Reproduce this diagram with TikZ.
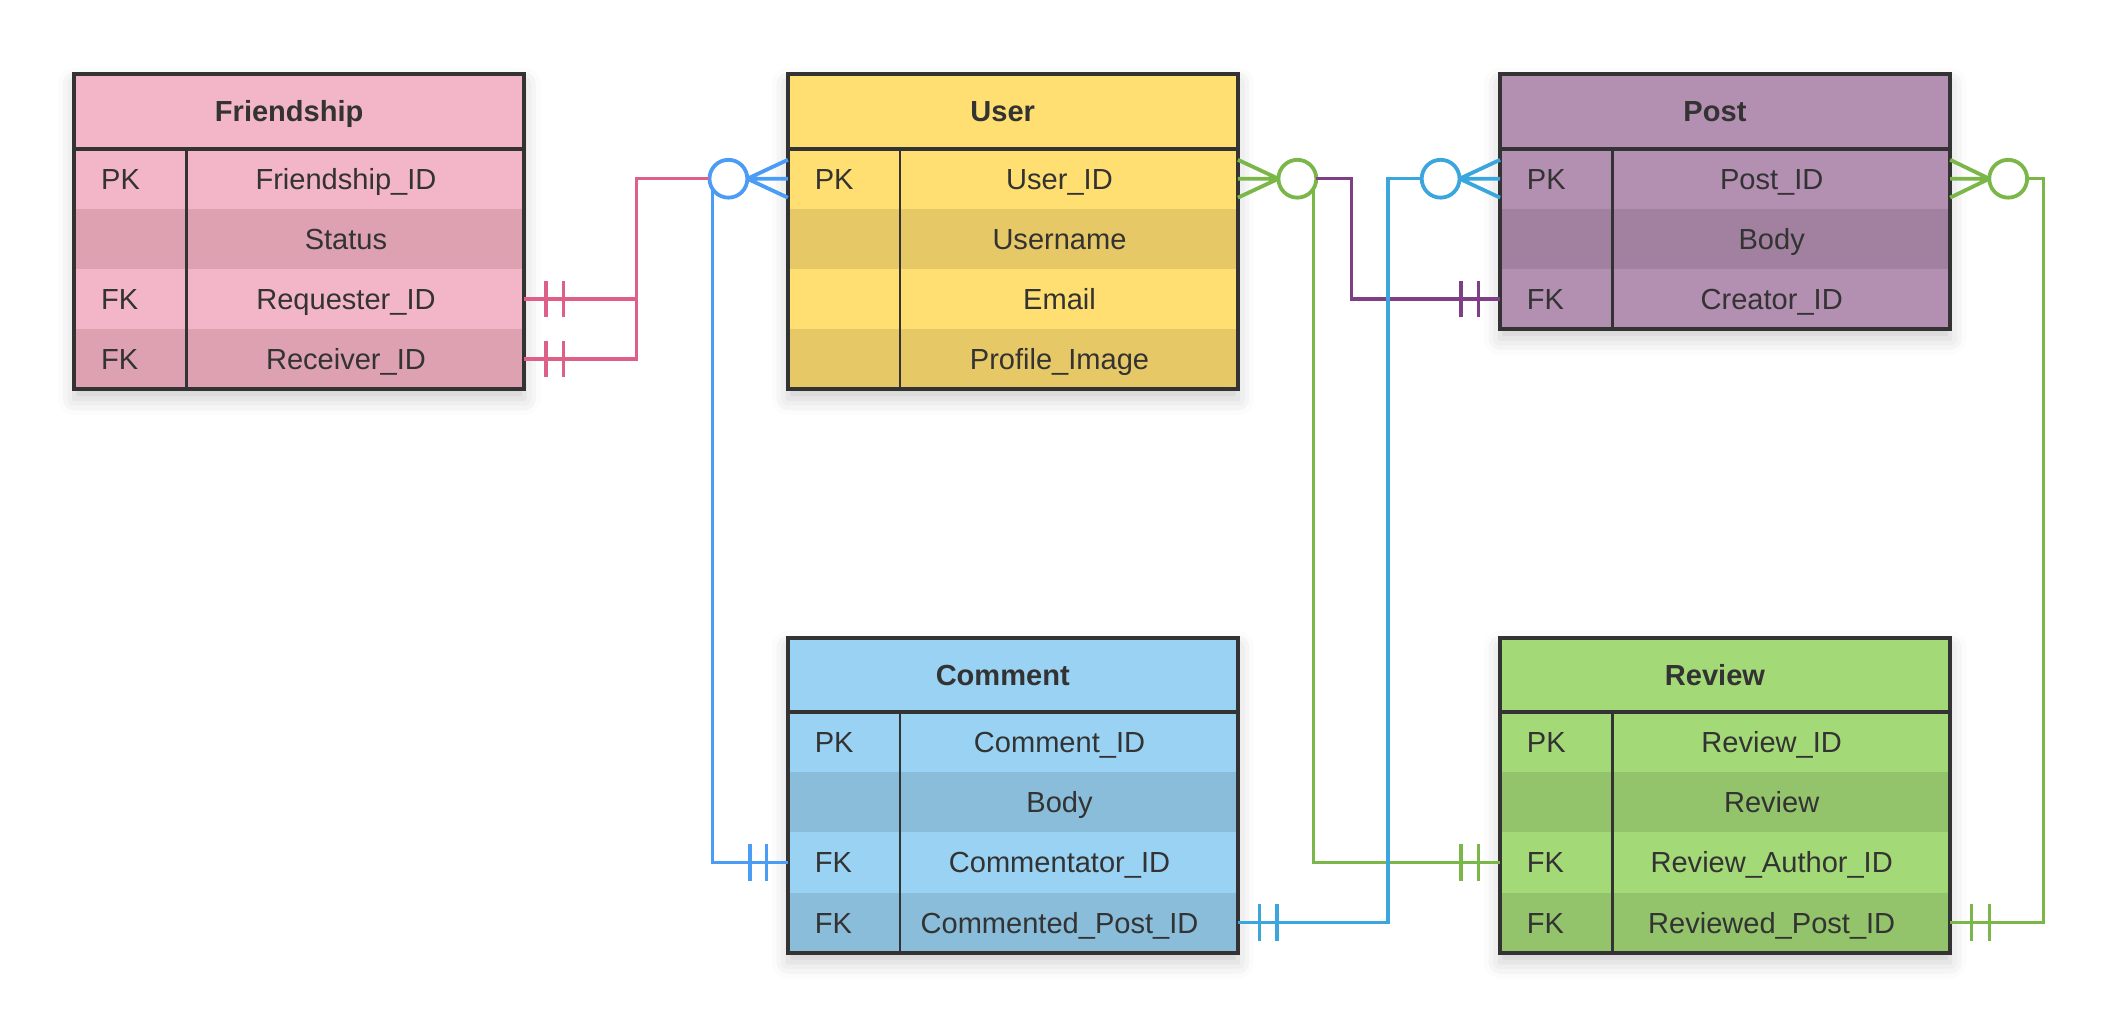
\documentclass[tikz,border=0pt]{standalone}
\usepackage{fontspec}
\setmainfont{Liberation Sans}
\usetikzlibrary{shadows.blur}
\definecolor{ink}{HTML}{333333}
\definecolor{pinkL}{RGB}{243,182,200}
\definecolor{pinkD}{RGB}{221,161,177}
\definecolor{yelL}{RGB}{255,223,113}
\definecolor{yelD}{RGB}{230,200,102}
\definecolor{purL}{RGB}{179,143,177}
\definecolor{purD}{RGB}{161,129,159}
\definecolor{bluL}{RGB}{153,210,242}
\definecolor{bluD}{RGB}{138,189,218}
\definecolor{grnL}{RGB}{163,217,119}
\definecolor{grnD}{RGB}{147,195,107}
\definecolor{lnPink}{RGB}{222,95,135}
\definecolor{lnBlue}{RGB}{74,156,245}
\definecolor{lnSky}{RGB}{58,166,221}
\definecolor{lnGreen}{RGB}{122,182,72}
\definecolor{lnPurple}{RGB}{127,63,134}
\tikzset{
 hdrbox/.style={minimum width=166.5pt, minimum height=27.5pt, inner sep=0pt, outer sep=0pt, draw=none},
 rowbox/.style={minimum width=166.5pt, minimum height=22.25pt, inner sep=0pt, outer sep=0pt, draw=none},
 ttl/.style={font=\fontsize{10.75}{12}\selectfont\bfseries, text=ink, inner sep=0pt, text height=7.7pt, text depth=0pt},
 keytxt/.style={font=\fontsize{10.75}{12}\selectfont, text=ink, inner sep=0pt, anchor=west, text height=7.7pt, text depth=0pt},
 fldtxt/.style={font=\fontsize{10.75}{12}\selectfont, text=ink, inner sep=0pt, text height=7.7pt, text depth=0pt},
 tblborder/.style={draw=ink, line width=1.4pt},
 rel/.style={line width=1.25pt},
 ring/.style={circle, draw, fill=white, line width=1.4pt, minimum size=14pt, inner sep=0pt, outer sep=0pt},
 foot/.style={line width=1.4pt},
 tblshadow/.style={blur shadow={shadow xshift=0pt, shadow yshift=-3.5pt, shadow blur radius=6pt, shadow opacity=20}}
}
% #1 name, #2 left, #3 top, #4 title, #5 colour prefix, #6 rows, #7 row count
\newcommand\erdtab[7]{%
  \pgfmathsetmacro\tabh{55+44.5*#7}
  \path[fill=white, tblshadow] (#2,#3) rectangle ++(333,\tabh);
  \node[hdrbox, fill=#5L, anchor=north west] (#1-h) at (#2,#3) {};
  \node[ttl] (#1-t) at (#2+159,#3+27.5) {#4};
  \foreach[count=\i] \k/\f in {#6}{
    \pgfmathsetmacro\ytop{#3+55+(\i-1)*44.5}
    \ifodd\i\def\rc{#5L}\else\def\rc{#5D}\fi
    \node[rowbox, fill=\rc, anchor=north west] (#1-\i) at (#2,\ytop) {};
    \node[keytxt] (#1-k\i) at ([xshift=9.75pt]#1-\i.west) {\k};
    \node[fldtxt] (#1-f\i) at (#2+201,\ytop+22.25) {\f};
  }
  \draw[ink, line width=1pt] (#2+83,#3+55) -- ++(0,44.5*#7);
  \draw[ink, line width=1.4pt] (#2,#3+55) -- ++(333,0);
  \draw[tblborder] (#2,#3) rectangle ++(333,\tabh);
}
% #1 colour, #2 anchor, #3 and #4 x offsets
\newcommand\twobars[4]{%
  \draw[rel,#1] ([xshift=#3,yshift=6.75pt]#2) -- ([xshift=#3,yshift=-6.75pt]#2)
                ([xshift=#4,yshift=6.75pt]#2) -- ([xshift=#4,yshift=-6.75pt]#2);
}
\begin{document}
\begin{tikzpicture}[x=0.5pt,y=-0.5pt]
\useasboundingbox (0,0) rectangle (1568,760.7);

\erdtab{F}{55}{55}{Friendship}{pink}{PK/Friendship\_ID,{}/Status,FK/Requester\_ID,FK/Receiver\_ID}{4}
\erdtab{U}{583}{55}{User}{yel}{PK/User\_ID,{}/Username,{}/Email,{}/Profile\_Image}{4}
\erdtab{P}{1110}{55}{Post}{pur}{PK/Post\_ID,{}/Body,FK/Creator\_ID}{3}
\erdtab{C}{583}{472}{Comment}{blu}{PK/Comment\_ID,{}/Body,FK/Commentator\_ID,FK/Commented\_Post\_ID}{4}
\erdtab{R}{1110}{472}{Review}{grn}{PK/Review\_ID,{}/Review,FK/Review\_Author\_ID,FK/Reviewed\_Post\_ID}{4}

% rings
\node[ring, draw=lnBlue] (cU1) at ([xshift=-22pt]U-1.west) {};
\node[ring, draw=lnGreen] (cU2) at ([xshift=22pt]U-1.east) {};
\node[ring, draw=lnSky] (cP1) at ([xshift=-22pt]P-1.west) {};
\node[ring, draw=lnGreen] (cP2) at ([xshift=21.5pt]P-1.east) {};

% connectors
\draw[rel,lnPink] (F-3.east) -- ++(41.5pt,0pt) coordinate (pj) |- (cU1.west);
\draw[rel,lnPink] (F-4.east) -| (pj);
\draw[rel,lnBlue] (C-3.west) -| (cU1.211);
\draw[rel,lnGreen] (R-3.west) -| (cU2.329);
\draw[rel,lnPurple] (cU2.east) -- ++(13pt,0pt) |- (P-3.west);
\draw[rel,lnSky] (C-4.east) -- ++(55.5pt,0pt) |- (cP1.west);
\draw[rel,lnGreen] (cP2.east) -- ++(6pt,0pt) |- (R-4.east);

% crow's feet
\draw[foot,lnBlue] (cU1.east) -- ([yshift=7pt]U-1.west) (cU1.east) -- (U-1.west) (cU1.east) -- ([yshift=-7pt]U-1.west);
\draw[foot,lnGreen] (cU2.west) -- ([yshift=7pt]U-1.east) (cU2.west) -- (U-1.east) (cU2.west) -- ([yshift=-7pt]U-1.east);
\draw[foot,lnSky] (cP1.east) -- ([yshift=7pt]P-1.west) (cP1.east) -- (P-1.west) (cP1.east) -- ([yshift=-7pt]P-1.west);
\draw[foot,lnGreen] (cP2.west) -- ([yshift=7pt]P-1.east) (cP2.west) -- (P-1.east) (cP2.west) -- ([yshift=-7pt]P-1.east);

% bars
\twobars{lnPink}{F-3.east}{8pt}{14.5pt}
\twobars{lnPink}{F-4.east}{8pt}{14.5pt}
\twobars{lnBlue}{C-3.west}{-14pt}{-8pt}
\twobars{lnPurple}{P-3.west}{-14.5pt}{-8pt}
\twobars{lnGreen}{R-3.west}{-14.5pt}{-8pt}
\twobars{lnSky}{C-4.east}{8pt}{14.5pt}
\twobars{lnGreen}{R-4.east}{8pt}{14.5pt}
\end{tikzpicture}
\end{document}
